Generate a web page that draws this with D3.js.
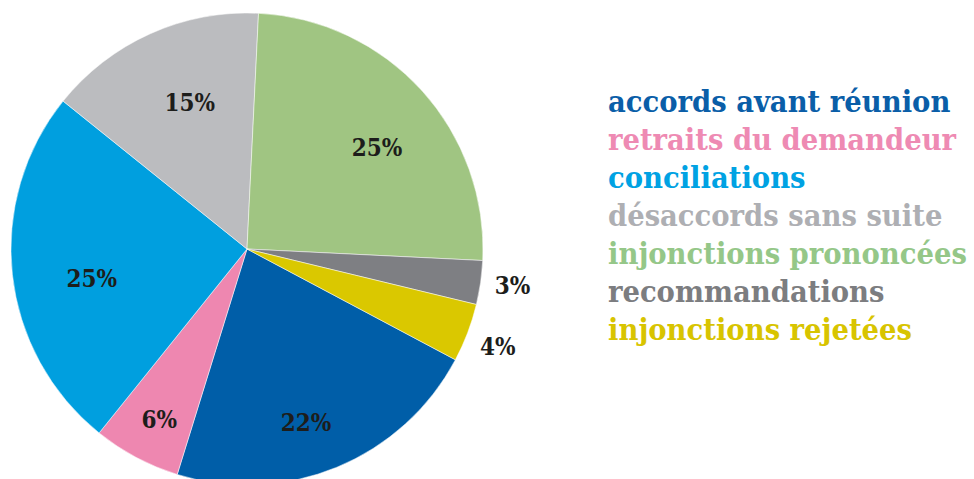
<!DOCTYPE html>
<html>
<head>
<meta charset="utf-8">
<script src="https://cdn.jsdelivr.net/npm/d3@7"></script>
<style>
  html, body { margin: 0; padding: 0; background: #fff; }
  svg { display: block; }
</style>
</head>
<body>
<svg id="chart" width="974" height="479"></svg>
<script>
const categories = [
  "accords avant réunion",
  "retraits du demandeur",
  "conciliations",
  "désaccords sans suite",
  "injonctions prononcées",
  "recommandations",
  "injonctions rejetées"
];
const values = [22, 6, 25, 15, 25, 3, 4];
const labels = ["22%", "6%", "25%", "15%", "25%", "3%", "4%"];
const colors = ["#005EA8", "#EE87B0", "#009FDF", "#BBBCBF", "#A0C582", "#7E7F83", "#DAC800"];
const legendColors = ["#0A5EA8", "#EE8AB3", "#00A2E3", "#AEAFB3", "#95C788", "#7C7D80", "#D8C400"];

// layout (style only)
const cx = 247, cy = 249, R = 236;
const startDeg = 118;
const labelRadius = [183, 192, 158, 157, 165, 268, 269];
const labelAngleShift = [3.6, -0.8, -4.4, 2.8, 4.2, -0.4, 0.4];
const serif = "'DejaVu Serif Condensed', 'DejaVu Serif', serif";

const svg = d3.select("#chart");
const g = svg.append("g").attr("transform", `translate(${cx},${cy})`);

const pie = d3.pie().sort(null).value(d => d)
  .startAngle(startDeg * Math.PI / 180)
  .endAngle(startDeg * Math.PI / 180 + 2 * Math.PI);
const arcs = pie(values);
const arc = d3.arc().innerRadius(0).outerRadius(R);

g.selectAll("path.slice").data(arcs).enter().append("path")
  .attr("class", "slice")
  .attr("d", arc)
  .attr("fill", (d, i) => colors[i])
  .attr("stroke", "#fff")
  .attr("stroke-width", 0.5);

g.selectAll("text.lbl").data(arcs).enter().append("text")
  .attr("class", "lbl")
  .attr("x", (d, i) => {
    const a = (d.startAngle + d.endAngle) / 2 + labelAngleShift[i] * Math.PI / 180;
    return labelRadius[i] * Math.sin(a);
  })
  .attr("y", (d, i) => {
    const a = (d.startAngle + d.endAngle) / 2 + labelAngleShift[i] * Math.PI / 180;
    return -labelRadius[i] * Math.cos(a);
  })
  .attr("dy", "0.36em")
  .attr("text-anchor", "middle")
  .attr("font-family", serif)
  .attr("font-weight", "bold")
  .attr("font-size", 24)
  .attr("fill", "#1d1d1b")
  .text((d, i) => labels[i]);

const legend = svg.append("g").attr("transform", "translate(608,112)");
legend.selectAll("text").data(categories).enter().append("text")
  .attr("x", 0)
  .attr("y", (d, i) => i * 38)
  .attr("font-family", serif)
  .attr("font-weight", "bold")
  .attr("font-size", 30.5)
  .attr("fill", (d, i) => legendColors[i])
  .text(d => d);
</script>
</body>
</html>
